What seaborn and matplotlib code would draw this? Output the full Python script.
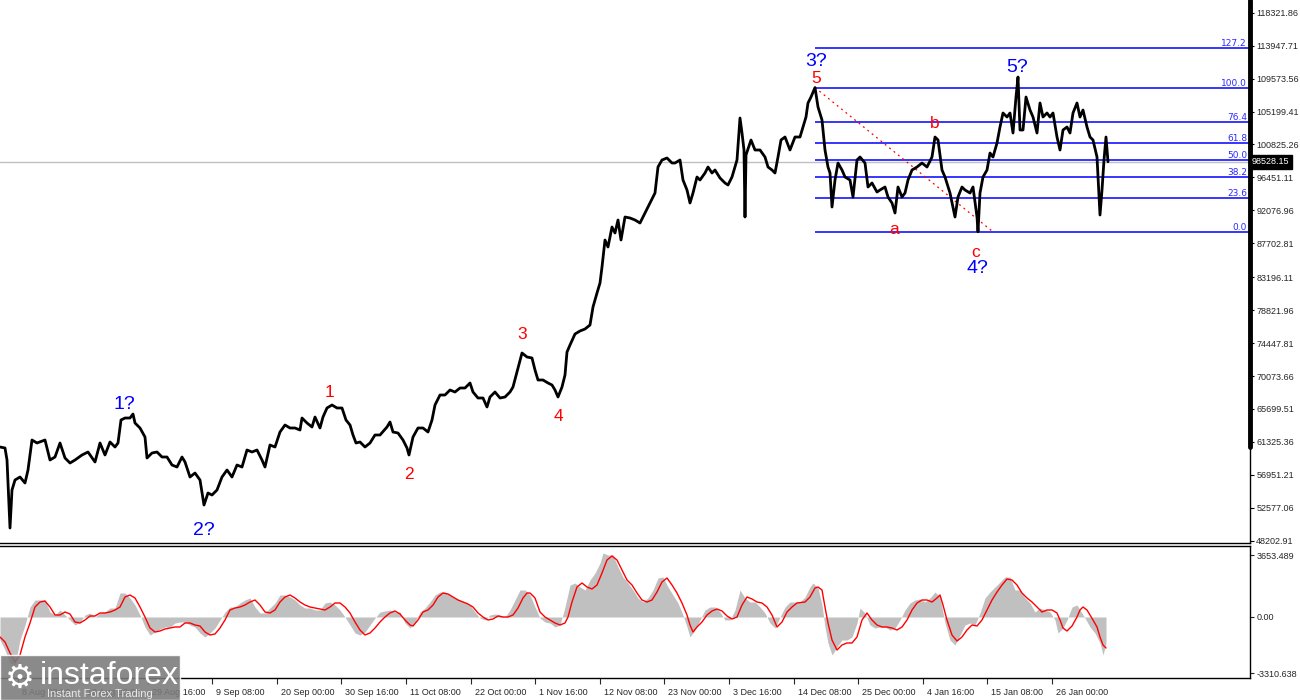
import matplotlib
matplotlib.use("Agg")
import matplotlib.pyplot as plt
import matplotlib.transforms as mtransforms
from matplotlib.patches import Rectangle
import seaborn as sns

sns.set_style("white")
plt.rcParams['font.family'] = ['Liberation Sans', 'DejaVu Sans']

# ---- price (H4 closes), x = bar position on the time axis
price_t = [0, 5, 7, 10, 12, 15, 20, 25, 28, 32, 37, 45, 50, 55, 60, 65, 70, 75, 82, 88,
           95, 100, 105, 110, 115, 118, 121, 125, 130, 133, 135, 140, 145, 147, 152, 157,
           162, 167, 172, 177, 182, 185, 190, 195, 200, 204, 208, 212, 217, 222, 227, 232,
           237, 242, 247, 252, 257, 262, 265, 270, 275, 280, 285, 290, 295,
           300, 302, 307, 312, 315, 320, 323, 327, 332, 337, 342, 346, 350, 353, 356, 360,
           365, 370, 375, 380, 387, 390, 393, 398, 403, 407, 409, 413, 418, 423, 428, 432,
           435, 440, 445, 450, 455, 460, 465, 470, 473, 478, 483, 487, 490, 495, 500, 505,
           510, 513, 517, 522, 527, 532, 535, 538, 543, 548, 552, 555, 558, 562, 565, 567,
           570, 575, 580, 585, 590,
           593, 597, 600, 602, 605, 608, 612, 615, 618, 621, 625, 630, 635, 640, 645, 650,
           655, 658, 662, 667, 672, 675, 680, 683, 687, 690, 693, 697, 700, 705, 708, 712,
           715, 720, 725, 728, 732, 737, 740, 742, 744, 745, 746, 751, 755, 760, 765, 768,
           772, 775, 778, 781, 785, 790, 795, 800, 803, 806, 808, 811, 815, 818, 822,
           825, 828, 830, 832, 835, 838, 842, 845, 850, 853, 857, 860, 865, 868, 872, 877,
           880, 885, 888, 892, 895, 898, 902, 905, 908, 912, 917, 922, 927, 932, 935, 938,
           942, 945, 950, 955, 958, 962, 965, 970, 973, 977, 978, 980, 983, 987, 990, 993,
           997, 1000, 1003, 1007, 1010, 1013, 1016, 1018, 1020, 1023, 1026, 1030, 1033,
           1037, 1040, 1043, 1047, 1050, 1053, 1057, 1060, 1063, 1067, 1070, 1073, 1077,
           1080, 1083, 1087, 1090, 1093, 1097, 1100, 1102, 1104, 1106, 1108]
price_close = [60646, 60514, 58920, 49890, 54936, 56264, 56662, 55866, 57592, 61576, 61178,
               61576, 58920, 59318, 61178, 59186, 58522, 58920, 59584, 59982, 58654, 61178,
               59584, 61310, 60646, 61178, 64232, 64498, 64498, 65029, 63834, 63170, 61974,
               59186, 59850, 59982, 59318, 59318, 58256, 57990, 59318, 58654, 56662, 57194,
               56264, 52944, 54538, 54272, 54936, 56662, 57592, 56662, 58256, 57990, 60248,
               59982, 60248, 58920, 57990, 60912, 60646, 62638, 63568, 63170, 63170,
               62904, 64498, 63834, 63302, 64630, 63170, 64630, 65826, 66224, 65826, 65826,
               64232, 63568, 62240, 61178, 61310, 60646, 61178, 62240, 62240, 63302, 63966,
               62638, 62506, 61576, 60514, 59584, 61974, 63170, 63170, 62638, 64232, 66224,
               67552, 67552, 68216, 67950, 68482, 68482, 69146, 67950, 67154, 67154, 65958,
               67286, 67950, 67154, 67286, 67950, 68614, 70606, 73130, 72598, 72466, 70872,
               69544, 69544, 69146, 68880, 68216, 67286, 68614, 70208, 73262, 74192, 75653,
               76051, 76317, 76848,
               79238, 81098, 82426, 84550, 88136, 87206, 89862, 89066, 90792, 88136, 91190,
               91058, 90792, 90394, 91722, 93050, 94378, 97830, 98760, 99026, 98362, 98362,
               98760, 96104, 94776, 93050, 94378, 96502, 96104, 97034, 97830, 97034, 97432,
               96370, 95706, 95440, 96502, 98760, 104338, 102346, 100088, 91190, 99424,
               101416, 100088, 100088, 99158, 97830, 97432, 97034, 99158, 101416, 101814,
               100088, 101814, 101814, 103142, 104470, 106330, 107126, 108380, 105798, 104072,
               100088, 97830, 97034, 92518, 96104, 98362, 97432, 96502, 96104, 93846, 98760,
               99158, 98362, 95174, 95706, 94510, 94776, 95174, 93846, 93050, 91722, 95174,
               93846, 94378, 96104, 97432, 97830, 98362, 97830, 99158, 101814, 101416, 97432,
               96502, 94378, 91190, 93846, 95174, 94776, 94378, 95174, 91190, 89230, 94378,
               96502, 97432, 99690, 99158, 101018, 103142, 105002, 104470, 105002, 102346,
               107126, 109782, 102744, 102744, 107126, 105400, 104470, 102346, 106330, 104470,
               105002, 104470, 105002, 101814, 100088, 102744, 103142, 102346, 105002, 106330,
               104470, 105400, 103142, 101814, 101416, 99158, 91456, 94776, 98760, 101814,
               98528]
last_price = 98528.15

# ---- MACD histogram (grey) and signal line (red)
hist_t = [0, 5, 10, 15, 20, 25, 30, 35, 40, 45, 50, 55, 60, 65, 70, 75, 80, 85, 90, 95,
          100, 105, 110, 115, 120, 125, 130, 135, 140, 145, 150, 155, 160, 165, 170, 175,
          180, 185, 190, 195, 200, 205, 210, 215, 220, 225, 230, 235, 240, 245, 250, 255,
          260, 265, 270, 275, 280, 285, 290, 295, 300, 305, 310, 315, 320, 325, 330, 335,
          340, 345, 350, 355, 360, 365, 370, 375, 380, 385, 390, 395, 400, 405, 410, 415,
          420, 425, 430, 435, 440, 445, 450, 455, 460, 465, 470, 475, 480, 485, 490, 495,
          500, 505, 510, 515, 520, 525, 530, 535, 540, 545, 550, 555, 560, 565, 570, 575,
          580, 585, 590, 595, 600, 603, 608, 613, 618, 623, 628, 633, 638, 643, 648, 653,
          658, 663, 668, 673, 678, 683, 687, 690, 695, 700, 705, 710, 715, 720, 725, 730,
          735, 740, 745, 750, 755, 760, 765, 770, 775, 780, 785, 790, 795, 800, 805, 810,
          813, 818, 822, 825, 828, 832, 837, 842, 847, 852, 857, 860, 865, 870, 875, 880,
          885, 890, 895, 900, 905, 910, 915, 920, 925, 930, 935, 940, 945, 950, 955, 960,
          965, 970, 975, 980, 985, 990, 995, 1000, 1005, 1010, 1015, 1020, 1025, 1030,
          1035, 1040, 1045, 1050, 1055, 1058, 1063, 1067, 1072, 1077, 1080, 1085, 1090,
          1095, 1100, 1103, 1106]
hist_v = [-1357, -1947, -2714, -2832, -1357, -472, 590, 1003, 1003, 1003, 295, 118, 413,
          118, -177, -472, -295, 118, 236, 0, 236, 295, 531, 531, 1416, 1416, 1121, 708,
          118, -590, -1062, -885, -708, -590, -590, -354, -295, -295, -472, -590, -944,
          -1180, -944, -649, -177, 295, 590, 590, 826, 1003, 1121, 590, 236, 236, 531, 826,
          1298, 1298, 1180, 1003, 708, 531, 531, 413, 413, 826, 885, 708, 413, 0, -472,
          -944, -1062, -885, -472, -59, 295, 354, 413, 295, 295, -354, -649, -295, 295,
          531, 885, 1298, 1475, 1475, 1298, 1121, 1003, 885, 708, 295, -59, -177, 118, 177,
          118, 0, 413, 1003, 1593, 1593, 1298, 590, -59, -295, -354, -590, -472, 590, 1888,
          2006, 1770, 1593, 2183, 2596, 3186, 3776, 3658, 3658, 2950, 2360, 2006, 1593,
          1121, 885, 1121, 1593, 2301, 2360, 1770, 1298, 826, 118, -590, -1180, -767, -177,
          413, 590, 590, 295, -177, -177, 413, 1593, 1121, 885, 885, 590, 236, -354, -649,
          0, 590, 885, 885, 885, 1180, 1770, 2006, 1711, 708, -590, -1534, -2242, -1770,
          -1357, -1357, -1180, -354, 531, 236, -472, -649, -590, -590, -767, -649, -177,
          413, 826, 1003, 1062, 885, 1121, 1475, 1180, -354, -1357, -1652, -1062, -472,
          -354, -472, 236, 1121, 1475, 1770, 2065, 2360, 2360, 1593, 1593, 1121, 826, 295,
          531, 413, 295, -177, -944, -649, -177, 590, 708, 413, -59, -590, -944, -1534,
          -2242, -1534]

signal_t = [0, 5, 10, 15, 20, 25, 30, 35, 40, 45, 50, 55, 60, 65, 70, 75, 80, 85, 90, 95,
            100, 105, 110, 115, 120, 125, 130, 135, 140, 145, 150, 155, 160, 165, 170, 175,
            180, 185, 190, 195, 200, 205, 210, 215, 220, 225, 230, 235, 240, 245, 250, 255,
            260, 265, 270, 275, 280, 285, 290, 295, 300, 305, 310, 315, 320, 325, 330, 335,
            340, 345, 350, 355, 360, 365, 370, 375, 380, 385, 390, 395, 400, 405, 410, 413,
            418, 423, 428, 433, 438, 443, 448, 453, 458, 463, 468, 473, 478, 483, 488, 493,
            498, 503, 508, 513, 518, 523, 527, 530, 535, 540, 545, 550, 555, 560, 565, 568,
            572, 577, 582, 587, 592, 597, 602, 607, 612, 617, 622, 627, 632, 637, 642, 647,
            652, 657, 662, 667, 672, 677, 682, 687, 690, 693, 697, 702, 707, 712, 717, 722,
            727, 732, 737, 742, 747, 752, 757, 762, 767, 772, 777, 782, 787, 792, 797, 805,
            810, 815, 818, 822, 825, 828, 832, 837, 842, 847, 852, 857, 862, 867, 872, 877,
            882, 887, 892, 897, 902, 907, 912, 917, 922, 927, 932, 937, 940, 943, 947, 952,
            957, 962, 967, 972, 977, 982, 987, 992, 997, 1002, 1007, 1012, 1017, 1022, 1027,
            1032, 1037, 1042, 1047, 1052, 1057, 1060, 1063, 1067, 1072, 1077, 1080, 1083,
            1087, 1090, 1093, 1097, 1100, 1103, 1106]
signal_v = [-1180, -1475, -2124, -2655, -2242, -1180, -354, 590, 885, 944, 590, 118, 118,
            295, 177, -295, -354, -177, 59, 59, 236, 236, 295, 413, 590, 1180, 1298, 1121,
            590, 0, -649, -885, -826, -708, -649, -590, -590, -354, -354, -472, -531, -885,
            -1062, -1003, -649, -177, 413, 531, 590, 708, 885, 1003, 708, 295, 236, 413, 885,
            1180, 1298, 1121, 885, 708, 590, 531, 472, 413, 590, 826, 826, 590, 236, -295,
            -767, -1062, -944, -649, -295, 0, 236, 354, 177, -177, -472, -531, -177, 295,
            413, 708, 1180, 1416, 1357, 1180, 1003, 885, 767, 590, 236, 0, -177, -118, 59, 0,
            0, 118, 531, 1121, 1416, 1416, 1121, 295, 0, -177, -354, -472, -354, 0, 885,
            1770, 2006, 1770, 1652, 1888, 2596, 3363, 3599, 3363, 2773, 2183, 1888, 1416,
            1003, 885, 1003, 1475, 2065, 2301, 1888, 1416, 826, 118, -472, -885, -590, -295,
            118, 354, 472, 354, 59, -118, 0, 708, 1180, 1062, 885, 826, 590, 118, -590, -295,
            295, 590, 826, 885, 1180, 1711, 1770, 1593, 590, -354, -1357, -1947, -1652,
            -1534, -1534, -1180, -177, 236, -177, -472, -590, -590, -649, -767, -590, -177,
            413, 826, 1003, 1003, 885, 1121, 1298, 708, -177, -1062, -1416, -1180, -767,
            -472, -531, -177, 413, 1003, 1475, 1888, 2242, 2183, 1888, 1416, 1121, 885, 590,
            295, 413, 413, 236, -177, -649, -826, -531, 0, 413, 590, 413, 118, -177, -590,
            -1180, -1652, -1829]

# ---- Fibonacci grid (drawn from the wave-5 high to the wave-c low)
fib_high, fib_low = 108380, 89230
fib_start, fib_end = 815, 992
fib_ratios = [1.272, 1.0, 0.764, 0.618, 0.5, 0.382, 0.236, 0.0]
fib_labels = ["127.2", "100.0", "76.4", "61.8", "50.0", "38.2", "23.6", "0.0"]

# ---- wave marks: (text, bar, price, colour)
waves = [("1?", 124, 66357, "blue"), ("2?", 204, 49558, "blue"),
         ("1", 329, 67884, "red"), ("2", 409, 57061, "red"),
         ("3", 522, 75586, "red"), ("4", 558, 64763, "red"),
         ("3?", 816, 111841, "blue"), ("5", 816, 109517, "red"),
         ("a", 894, 89530, "red"), ("b", 935, 103607, "red"),
         ("c", 976, 86542, "red"), ("4?", 977, 84285, "blue"),
         ("5?", 1017, 111044, "blue")]

price_ticks = [118321.86, 113947.71, 109573.56, 105199.41, 100825.26, 96451.11, 92076.96,
               87702.81, 83196.11, 78821.96, 74447.81, 70073.66, 65699.51, 61325.36,
               56951.21, 52577.06, 48202.91]
macd_ticks = [3653.489, 0.0, -3310.638]
macd_tick_labels = ["3653.489", "0.00", "-3310.638"]
date_labels = ["28 Jul 16:00", "8 Aug 08:00", "19 Aug 00:00", "29 Aug 16:00",
               "9 Sep 08:00", "20 Sep 00:00", "30 Sep 16:00", "11 Oct 08:00",
               "22 Oct 00:00", "1 Nov 16:00", "12 Nov 08:00", "23 Nov 00:00",
               "3 Dec 16:00", "14 Dec 08:00", "25 Dec 00:00", "4 Jan 16:00",
               "15 Jan 08:00", "26 Jan 00:00"]

W, H = 1300, 700
fig = plt.figure(figsize=(13, 7), dpi=100)
ax = fig.add_axes([0, (H - 543) / H, 1250 / W, 543 / H])
axm = fig.add_axes([0, (H - 678) / H, 1250 / W, (678 - 546) / H])

XMAX = 1250
BLUE = "#0000ff"
LABEL_SIZE = 6.5

# main price panel
ax.axhline(last_price, color="#c0c0c0", lw=1, zorder=0)
fib_levels = [fib_low + r * (fib_high - fib_low) for r in fib_ratios]
ax.hlines(fib_levels, fib_start, XMAX, color=BLUE, lw=1.1, zorder=1)
for lvl, lab in zip(fib_levels, fib_labels):
    ax.text(XMAX - 3, lvl, lab, ha="right", va="bottom", color="#2a2aff", fontsize=6.5,
            family=["DejaVu Sans"])
ax.plot([fib_start, fib_end], [fib_high, fib_low + 100], color="red", lw=0.9,
        ls=(0, (1.5, 3)), zorder=2)

sns.lineplot(x=price_t, y=price_close, ax=ax, color="black", lw=2.0, zorder=3)

for txt, bx, py, col in waves:
    size = 14 if col == "blue" else 12.5
    ax.text(bx, py, txt, color=BLUE if col == "blue" else "#ff0000", fontsize=size,
            ha="center", va="center")

ax.set_xticks([])
ax.set_xlim(0, XMAX)
ax.set_ylim(47898, 120008)
ax.yaxis.tick_right()
ax.set_yticks(price_ticks)
ax.set_yticklabels([f"{v:.2f}" for v in price_ticks])
ax.set_ylim(47898, 120008)
ax.tick_params(axis="y", length=3, width=0.8, pad=1.5, labelsize=LABEL_SIZE, color="black")
for s in ["top", "left"]:
    ax.spines[s].set_visible(False)
for s in ["right", "bottom"]:
    ax.spines[s].set_color("black")
    ax.spines[s].set_linewidth(1)
ax.axvline(XMAX, ymin=1 - 447 / 543, ymax=1, color="black", lw=3.5, clip_on=False)
ax.set_xlabel("")
ax.set_ylabel("")
ax.text(XMAX + 2, last_price, f"{last_price:.2f}", color="white", fontsize=LABEL_SIZE,
        va="center", ha="left", clip_on=False,
        bbox=dict(boxstyle="square,pad=0.25", fc="black", ec="black"))

# MACD panel
axm.fill_between(hist_t, 0, hist_v, color="#c0c0c0", lw=0)
sns.lineplot(x=signal_t, y=signal_v, ax=axm, color="#ff0000", lw=1.0)
axm.yaxis.tick_right()
axm.set_yticks(macd_ticks)
axm.set_yticklabels(macd_tick_labels)
axm.tick_params(axis="y", length=3, width=0.8, pad=1.5, labelsize=LABEL_SIZE)
axm.spines["left"].set_visible(False)
for s in ["top", "right", "bottom"]:
    axm.spines[s].set_color("black")
    axm.spines[s].set_linewidth(1)

tick_first, tick_step = 18.4 - 64.6, 64.6
axm.set_xticks([tick_first + k * tick_step for k in range(len(date_labels))])
axm.set_xticklabels(date_labels)
axm.tick_params(axis="x", length=4, width=0.8, pad=3, labelsize=LABEL_SIZE, direction="out",
                bottom=True)
offset = mtransforms.ScaledTranslation(4 / 100, 0, fig.dpi_scale_trans)
for lbl in axm.get_xticklabels():
    lbl.set_horizontalalignment("left")
    lbl.set_transform(lbl.get_transform() + offset)
# limits last: set_xticks would widen the view to the off-screen first tick
axm.set_xlim(0, XMAX)
axm.set_ylim(-3599, 4189)
axm.set_xlabel("")
axm.set_ylabel("")

# instaforex watermark
fig.patches.append(Rectangle((0, 0), 180 / W, 45 / H, transform=fig.transFigure,
                             facecolor="#7a7a7a", alpha=0.88, zorder=10))
fig.text(20 / W, 22 / H, "\u2699", color="white", fontsize=24, ha="center",
         va="center", zorder=11, family=["DejaVu Sans"])
fig.text(40 / W, 24 / H, "instaforex", color="white", fontsize=23, ha="left",
         va="center", zorder=11)
fig.text(47 / W, 6 / H, "Instant Forex Trading", color="#e8e8e8", fontsize=8,
         ha="left", va="center", zorder=11)

fig.savefig("out.png", dpi=100)
